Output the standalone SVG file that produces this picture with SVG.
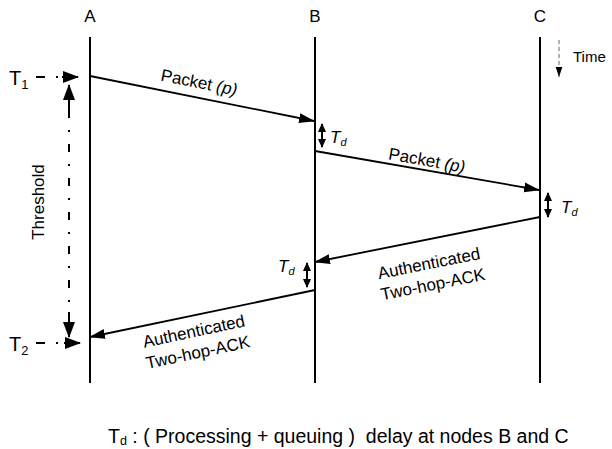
<svg xmlns="http://www.w3.org/2000/svg" width="612" height="449" viewBox="0 0 612 449">
<style>
text{font-family:"Liberation Sans",Arial,sans-serif;fill:#000}
.lbl{font-size:17px}
.node{font-size:17px;text-anchor:middle}
.life{stroke:#000;stroke-width:2;fill:none}
.msg{stroke:#000;stroke-width:1.8;fill:none;marker-end:url(#ah)}
.td{stroke:#000;stroke-width:2;fill:none;marker-start:url(#sh);marker-end:url(#sh)}
.it{font-style:italic}
</style>
<defs>
<marker id="ah" markerUnits="userSpaceOnUse" markerWidth="16" markerHeight="12" refX="15" refY="5" orient="auto" viewBox="0 0 16 10">
<path d="M0,0 L16,5 L0,10 Z" fill="#000"/>
</marker>
<marker id="sh" markerUnits="userSpaceOnUse" markerWidth="9" markerHeight="8" refX="8" refY="4" orient="auto-start-reverse" viewBox="0 0 9 8">
<path d="M0,0 L9,4 L0,8 Z" fill="#000"/>
</marker>
<marker id="th" markerUnits="userSpaceOnUse" markerWidth="16" markerHeight="12" refX="15" refY="6" orient="auto-start-reverse" viewBox="0 0 16 12">
<path d="M0,0 L16,6 L0,12 Z" fill="#000"/>
</marker>
<marker id="tm" markerUnits="userSpaceOnUse" markerWidth="10" markerHeight="10" refX="12" refY="4" orient="auto" viewBox="0 0 12 8">
<path d="M0,0 L12,4 L0,8 Z" fill="#000"/>
</marker>
</defs>

<g id="nodeA">
<text class="node" x="90" y="22">A</text>
<line class="life" x1="90" y1="37" x2="90" y2="383"/>
</g>
<g id="nodeB">
<text class="node" x="315" y="22">B</text>
<line class="life" x1="315" y1="37" x2="315" y2="383"/>
</g>
<g id="nodeC">
<text class="node" x="540" y="22">C</text>
<line class="life" x1="540" y1="37" x2="540" y2="383"/>
</g>

<g id="time">
<line x1="559" y1="40" x2="559" y2="77" stroke="#999" stroke-width="1.5" stroke-dasharray="4 3" marker-end="url(#tm)"/>
<text x="573" y="62" font-size="15">Time</text>
</g>

<g id="T1">
<text x="9" y="85" font-size="20">T<tspan font-size="13" dy="4">1</tspan></text>
<line x1="36" y1="77" x2="62" y2="77" stroke="#000" stroke-width="2" stroke-dasharray="9 11 2 20"/>
<line x1="62" y1="77" x2="78" y2="77" stroke="#000" stroke-width="2" marker-end="url(#th)"/>
</g>
<g id="T2">
<text x="9" y="351" font-size="20">T<tspan font-size="13" dy="4">2</tspan></text>
<line x1="36" y1="343" x2="62" y2="343" stroke="#000" stroke-width="2" stroke-dasharray="9 11 2 20"/>
<line x1="64" y1="343" x2="80" y2="343" stroke="#000" stroke-width="2" marker-end="url(#th)"/>
</g>

<g id="threshold">
<line x1="69" y1="85" x2="69" y2="337" stroke="#000" stroke-width="2" stroke-dasharray="8 12 2 12" stroke-dashoffset="-25"/>
<line x1="69" y1="85" x2="69" y2="110" stroke="#000" stroke-width="2" marker-start="url(#th)"/>
<line x1="69" y1="312" x2="69" y2="337" stroke="#000" stroke-width="2" marker-end="url(#th)"/>
<text class="lbl" transform="translate(44,202) rotate(-90)" text-anchor="middle">Threshold</text>
</g>

<g id="connectors">
<line class="msg" x1="90" y1="76" x2="314" y2="121"/>
<line class="msg" x1="315" y1="151" x2="539" y2="190"/>
<line class="msg" x1="540" y1="217" x2="315" y2="262"/>
<line class="msg" x1="315" y1="290" x2="90" y2="337"/>
<line class="td" x1="322" y1="124" x2="322" y2="147"/>
<line class="td" x1="548" y1="193" x2="548" y2="217"/>
<line class="td" x1="307" y1="263" x2="307" y2="287"/>
</g>

<g id="labels">
<text class="lbl" text-anchor="middle" transform="translate(198,88) rotate(11.3)">Packet <tspan class="it">(p)</tspan></text>
<text class="lbl" text-anchor="middle" transform="translate(426,166) rotate(10.1)">Packet <tspan class="it">(p)</tspan></text>
<text class="lbl" text-anchor="middle" transform="translate(430,269) rotate(-11.3)">Authenticated</text>
<text class="lbl" text-anchor="middle" transform="translate(434,290) rotate(-11.3)">Two-hop-ACK</text>
<text class="lbl" text-anchor="middle" transform="translate(195,337) rotate(-12)">Authenticated</text>
<text class="lbl" text-anchor="middle" transform="translate(199,358) rotate(-12)">Two-hop-ACK</text>
<text class="it" font-size="17" x="330" y="143">T<tspan font-size="11" dy="3">d</tspan></text>
<text class="it" font-size="17" x="561" y="213">T<tspan font-size="11" dy="3">d</tspan></text>
<text class="it" font-size="17" x="278" y="272">T<tspan font-size="11" dy="3">d</tspan></text>
</g>

<g id="legend">
<text font-size="19.5" x="108" y="443">T<tspan font-size="12.5" dy="2">d</tspan><tspan dy="-2"> : ( Processing + queuing )&#160; delay at nodes B and C</tspan></text>
</g>
</svg>
